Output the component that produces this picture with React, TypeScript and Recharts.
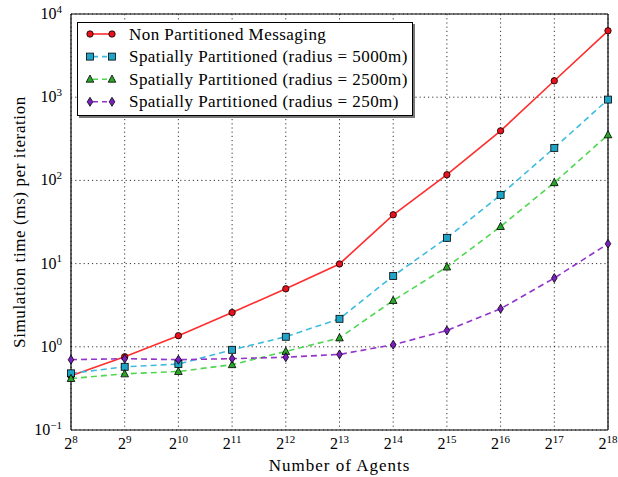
import React from 'react';
import { LineChart, Line, XAxis, YAxis, CartesianGrid, Legend } from 'recharts';

const exponents = [8, 9, 10, 11, 12, 13, 14, 15, 16, 17, 18];
const nonPartitioned = [0.45, 0.76, 1.36, 2.58, 4.98, 9.9, 38.6, 117, 394, 1575, 6280];
const radius5000 = [0.48, 0.575, 0.62, 0.92, 1.32, 2.17, 7.1, 20.4, 67, 246, 936];
const radius2500 = [0.416, 0.473, 0.505, 0.61, 0.88, 1.28, 3.6, 9.1, 27.9, 94, 353];
const radius250 = [0.7, 0.72, 0.7, 0.72, 0.75, 0.81, 1.06, 1.57, 2.86, 6.7, 17.3];

const yTicks = [0.1, 1, 10, 100, 1000, 10000];
const yTickExp = [-1, 0, 1, 2, 3, 4];

const data = exponents.map((e, i) => ({
  exp: e,
  np: nonPartitioned[i],
  r5000: radius5000[i],
  r2500: radius2500[i],
  r250: radius250[i],
}));

const xMinor: number[] = [];
for (let i = 0; i <= 180; i++) xMinor.push(8 + i / 18);
const yMinor: number[] = [];
for (let d = -1; d < 4; d++) for (let k = 2; k <= 9; k++) yMinor.push(k * Math.pow(10, d));

const FONT = "Liberation Serif, DejaVu Serif, Times New Roman, serif";

const Circle = (p: any) => {
  if (p.cx == null || p.cy == null) return null;
  return <circle cx={p.cx} cy={p.cy} r={3.2} fill="#e8121e" stroke="#000" strokeWidth={0.8} />;
};
const Square = (p: any) => {
  if (p.cx == null || p.cy == null) return null;
  return <rect x={p.cx - 3.5} y={p.cy - 3.5} width={7} height={7} fill="#1fa3c6" stroke="#000" strokeWidth={0.8} />;
};
const Triangle = (p: any) => {
  if (p.cx == null || p.cy == null) return null;
  const { cx, cy } = p;
  return <polygon points={`${cx},${cy - 4.2} ${cx - 3.8},${cy + 3} ${cx + 3.8},${cy + 3}`} fill="#2aa52a" stroke="#000" strokeWidth={0.8} />;
};
const Diamond = (p: any) => {
  if (p.cx == null || p.cy == null) return null;
  const { cx, cy } = p;
  return <polygon points={`${cx},${cy - 4.5} ${cx + 2.8},${cy} ${cx},${cy + 4.5} ${cx - 2.8},${cy}`} fill="#7b1fc0" stroke="#000" strokeWidth={0.8} />;
};

const series = [
  { key: 'np', name: 'Non Partitioned Messaging', color: '#ff2d2d', dash: undefined as string | undefined, Marker: Circle },
  { key: 'r5000', name: 'Spatially Partitioned (radius = 5000m)', color: '#3dbce0', dash: '6 4', Marker: Square },
  { key: 'r2500', name: 'Spatially Partitioned (radius = 2500m)', color: '#50d650', dash: '6 4', Marker: Triangle },
  { key: 'r250', name: 'Spatially Partitioned (radius = 250m)', color: '#9233cc', dash: '6 4', Marker: Diamond },
];

const XTick = (p: any) => {
  const { x, y, payload } = p;
  return (
    <text x={x} y={y} dy={11} textAnchor="middle" style={{ fontFamily: FONT }} fontSize={16} fill="#000">
      2<tspan dy={-6.5} fontSize={11}>{payload.value}</tspan>
    </text>
  );
};

const YTick = (p: any) => {
  const { x, y, payload } = p;
  const idx = yTicks.indexOf(payload.value);
  const e = idx >= 0 ? yTickExp[idx] : Math.round(Math.log10(payload.value));
  const eStr = e < 0 ? '\u2212' + Math.abs(e) : String(e);
  return (
    <text x={x - 1} y={y} dy={5} textAnchor="end" style={{ fontFamily: FONT }} fontSize={16} fill="#000">
      10<tspan dy={-6.5} fontSize={11}>{eStr}</tspan>
    </text>
  );
};

const LegendBox = () => (
  <div
    style={{
      width: 336,
      height: 94,
      border: '1px solid #000',
      background: '#fff',
      boxShadow: '2px 2px 0 #777',
      boxSizing: 'border-box',
    }}
  >
    <svg width={334} height={92} style={{ display: 'block' }}>
      {series.map((s, i) => {
        const cy = 11 + i * 22.6;
        const M = s.Marker;
        return (
          <g key={s.key}>
            <line x1={12} x2={34} y1={cy} y2={cy} stroke={s.color} strokeWidth={1.6} strokeDasharray={s.dash ? '5 4' : undefined} strokeDashoffset={s.dash ? -3 : 0} />
            <M cx={12} cy={cy} />
            <M cx={34} cy={cy} />
            <text x={51} y={cy} dy={5.5} style={{ fontFamily: FONT, letterSpacing: '0.45px' }} fontSize={17} fill="#000">
              {s.name}
            </text>
          </g>
        );
      })}
    </svg>
  </div>
);

const XLabel = (p: any) => {
  const vb = p.viewBox || {};
  return (
    <text x={vb.x + vb.width / 2} y={vb.y + 41} textAnchor="middle" style={{ fontFamily: FONT, letterSpacing: '1px' }} fontSize={17} fill="#000">
      Number of Agents
    </text>
  );
};

const YLabel = (p: any) => {
  const vb = p.viewBox || {};
  const cx = vb.x + 25;
  const cy = vb.y + vb.height / 2;
  return (
    <text x={cx} y={cy} textAnchor="middle" transform={`rotate(-90, ${cx}, ${cy})`} style={{ fontFamily: FONT, letterSpacing: '0.6px' }} fontSize={17} fill="#000">
      Simulation time (ms) per iteration
    </text>
  );
};

export default function App() {
  return (
    <div style={{ position: 'absolute', left: 0, top: 0, width: 618, height: 477, background: '#fff', fontFamily: FONT }}>
      <LineChart width={618} height={477} data={data} margin={{ top: 14, right: 10, left: 0, bottom: 0 }}>
        <CartesianGrid stroke="#000" strokeWidth={0.8} strokeDasharray="1.2 3" />
        <XAxis
          xAxisId={0}
          dataKey="exp"
          type="number"
          domain={[8, 18]}
          ticks={exponents}
          height={47}
          tickLine={false}
          axisLine={{ stroke: '#000', strokeWidth: 1.2 }}
          tick={<XTick />}
          interval={0}
          label={<XLabel />}
        />
        <YAxis
          yAxisId={0}
          type="number"
          scale="log"
          domain={[0.1, 10000]}
          ticks={yTicks}
          allowDataOverflow
          width={71}
          tickLine={false}
          axisLine={{ stroke: '#000', strokeWidth: 1.2 }}
          tick={<YTick />}
          interval={0}
          label={<YLabel />}
        />
        <XAxis xAxisId="bmaj" type="number" domain={[8, 18]} ticks={exponents} mirror orientation="bottom" tick={false} tickSize={6} tickLine={{ stroke: '#000' }} axisLine={false} interval={0} />
        <XAxis xAxisId="bmin" type="number" domain={[8, 18]} ticks={xMinor} mirror orientation="bottom" tick={false} tickSize={2.5} tickLine={{ stroke: '#444', strokeWidth: 0.6 }} axisLine={false} interval={0} />
        <XAxis xAxisId="tmaj" type="number" domain={[8, 18]} ticks={exponents} mirror orientation="top" tick={false} tickSize={6} tickLine={{ stroke: '#000' }} axisLine={{ stroke: '#000', strokeWidth: 1.2 }} interval={0} />
        <XAxis xAxisId="tmin" type="number" domain={[8, 18]} ticks={xMinor} mirror orientation="top" tick={false} tickSize={2.5} tickLine={{ stroke: '#444', strokeWidth: 0.6 }} axisLine={false} interval={0} />
        <YAxis yAxisId="lmaj" type="number" scale="log" domain={[0.1, 10000]} allowDataOverflow ticks={yTicks} mirror orientation="left" tick={false} tickSize={6} tickLine={{ stroke: '#000' }} axisLine={false} interval={0} />
        <YAxis yAxisId="lmin" type="number" scale="log" domain={[0.1, 10000]} allowDataOverflow ticks={yMinor} mirror orientation="left" tick={false} tickSize={3} tickLine={{ stroke: '#444', strokeWidth: 0.6 }} axisLine={false} interval={0} />
        <YAxis yAxisId="rmaj" type="number" scale="log" domain={[0.1, 10000]} allowDataOverflow ticks={yTicks} mirror orientation="right" tick={false} tickSize={6} tickLine={{ stroke: '#000' }} axisLine={{ stroke: '#000', strokeWidth: 1.2 }} interval={0} />
        <YAxis yAxisId="rmin" type="number" scale="log" domain={[0.1, 10000]} allowDataOverflow ticks={yMinor} mirror orientation="right" tick={false} tickSize={3} tickLine={{ stroke: '#444', strokeWidth: 0.6 }} axisLine={false} interval={0} />
        {series.map((s) => (
          <Line
            key={s.key}
            xAxisId={0}
            yAxisId={0}
            dataKey={s.key}
            name={s.name}
            stroke={s.color}
            strokeWidth={1.6}
            strokeDasharray={s.dash}
            dot={<s.Marker />}
            activeDot={false}
            isAnimationActive={false}
          />
        ))}
        <Legend
          layout="vertical"
          align="center"
          verticalAlign="middle"
          content={<LegendBox />}
          wrapperStyle={{ position: 'absolute', left: 77, top: 22, width: 336, height: 94 }}
        />
      </LineChart>
    </div>
  );
}
